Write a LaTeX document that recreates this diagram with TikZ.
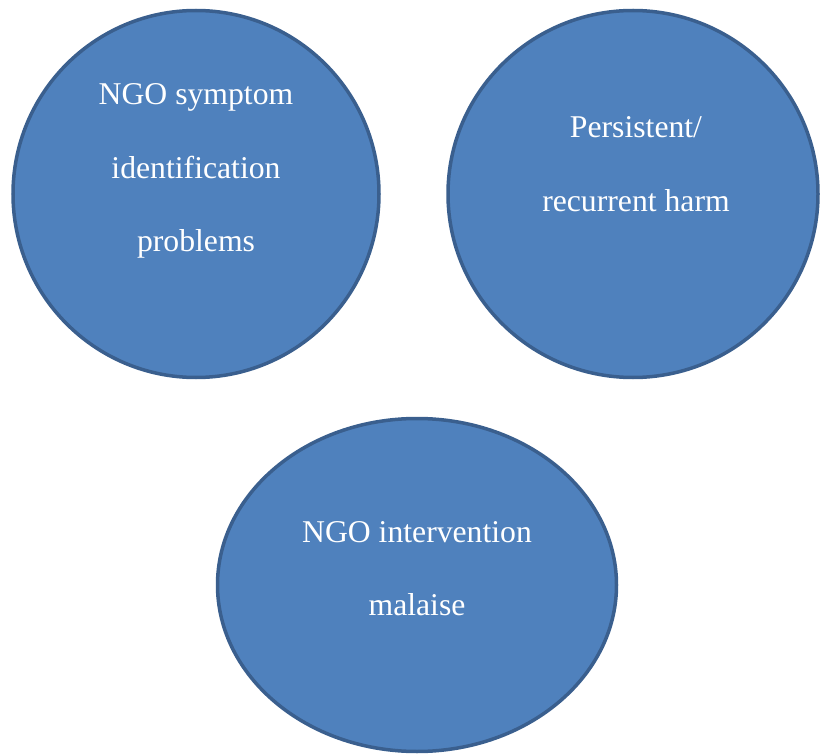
\documentclass[tikz,border=0pt]{standalone}
\usepackage{fontspec}
\setmainfont{Liberation Serif}
\usetikzlibrary{shapes.geometric}
\definecolor{fillblue}{HTML}{4F81BD}
\definecolor{edgeblue}{HTML}{3A5F8E}
\begin{document}
\begin{tikzpicture}[x=1pt,y=-1pt,
  blob/.style={ellipse,draw=edgeblue,fill=fillblue,line width=3.5pt,inner sep=0pt},
  txt/.style={anchor=base,text=white,font=\fontsize{31.7}{36}\selectfont,inner sep=0pt}]
\useasboundingbox (0,0) rectangle (820,754);
\node[blob,minimum width=366pt,minimum height=367pt] (c1) at (196,194) {};
\node[blob,minimum width=370pt,minimum height=367pt] (c2) at (633,194) {};
\node[blob,minimum width=399pt,minimum height=333pt] (c3) at (417,585) {};
\node[txt] (t1a) at (196,105) {NGO symptom};
\node[txt] (t1b) at (196,178.5) {identification};
\node[txt] (t1c) at (196,252) {problems};
\node[txt] (t2a) at (636,138) {Persistent/};
\node[txt] (t2b) at (636,211.5) {recurrent harm};
\node[txt] (t3a) at (417,542) {NGO intervention};
\node[txt] (t3b) at (417,615.5) {malaise};
\end{tikzpicture}
\end{document}
